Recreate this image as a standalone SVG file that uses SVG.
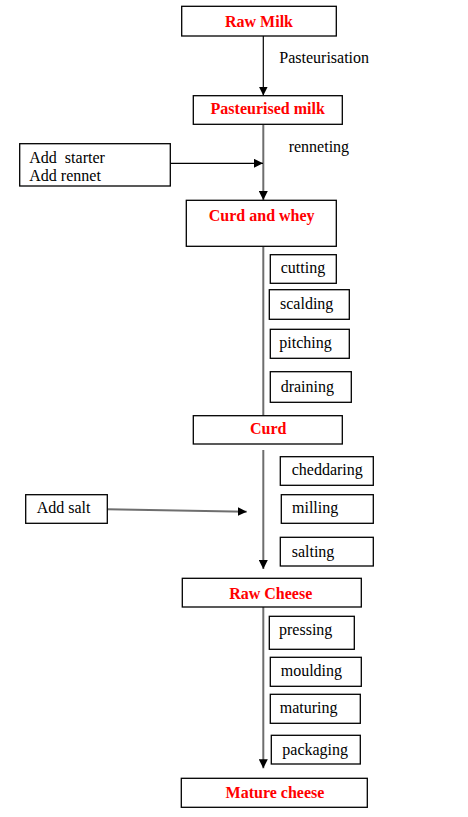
<svg xmlns="http://www.w3.org/2000/svg" width="468" height="817" viewBox="0 0 468 817">
<style>
.box{fill:#fff;stroke:#000;stroke-width:1.3}
.t{font-family:"Liberation Serif","Times New Roman",serif;font-size:16px;fill:#000}
.h{font-family:"Liberation Serif","Times New Roman",serif;font-size:16px;font-weight:bold;fill:#ff0000;text-anchor:middle}
.c1{stroke:#000;stroke-width:1.2;fill:none}
.c2{stroke:#6e6e6e;stroke-width:2;fill:none}
</style>
<defs>
<marker id="ah" viewBox="0 0 10 10" refX="10" refY="5" markerWidth="9" markerHeight="9" markerUnits="userSpaceOnUse" orient="auto">
<path d="M0,0 L10,5 L0,10 Z" fill="#000"/>
</marker>
</defs>
<rect width="468" height="817" fill="#fff"/>
<g id="connectors">
<line class="c1" x1="263.3" y1="36" x2="263.3" y2="95.5" marker-end="url(#ah)"/>
<line class="c2" x1="263.3" y1="124.5" x2="263.3" y2="200" marker-end="url(#ah)"/>
<line class="c1" x1="170.3" y1="163.3" x2="263" y2="163.3" marker-end="url(#ah)"/>
<line class="c2" x1="263.3" y1="246.5" x2="263.3" y2="415.7"/>
<line class="c2" x1="263.3" y1="450" x2="263.3" y2="569" marker-end="url(#ah)"/>
<line class="c2" x1="107.3" y1="509.3" x2="246.7" y2="511.7" marker-end="url(#ah)"/>
<line class="c2" x1="263.3" y1="607" x2="263.3" y2="768.3" marker-end="url(#ah)"/>
</g>
<g id="raw-milk"><rect class="box" x="181.7" y="6.3" width="154.6" height="29.7"/><text class="h" x="259" y="26.7">Raw Milk</text></g>
<text id="pasteurisation" class="t" x="279.3" y="62.7">Pasteurisation</text>
<g id="pasteurised-milk"><rect class="box" x="193.3" y="95.7" width="149" height="28.6"/><text class="h" x="267.7" y="114.3">Pasteurised milk</text></g>
<text id="renneting" class="t" x="288.7" y="151.7">renneting</text>
<g id="add-starter"><rect class="box" x="19.7" y="143.7" width="150.6" height="42.3"/><text class="t" x="29.3" y="162.7" xml:space="preserve">Add  starter</text><text class="t" x="29.3" y="180.5">Add rennet</text></g>
<g id="curd-and-whey"><rect class="box" x="186.3" y="200.3" width="150" height="46"/><text class="h" x="261.7" y="220.7">Curd and whey</text></g>
<g id="cutting"><rect class="box" x="270.3" y="254.7" width="66" height="28.6"/><text class="t" x="280.7" y="273.3">cutting</text></g>
<g id="scalding"><rect class="box" x="269.3" y="289.7" width="80" height="29.6"/><text class="t" x="280" y="309.3">scalding</text></g>
<g id="pitching"><rect class="box" x="270.3" y="329.3" width="79" height="29"/><text class="t" x="279.3" y="348.3">pitching</text></g>
<g id="draining"><rect class="box" x="270.3" y="371.7" width="81" height="30.6"/><text class="t" x="280.7" y="391.7">draining</text></g>
<g id="curd"><rect class="box" x="193.3" y="415.7" width="149" height="28.3"/><text class="h" x="268.3" y="434.3">Curd</text></g>
<g id="cheddaring"><rect class="box" x="280.3" y="456.7" width="93" height="28.6"/><text class="t" x="291.7" y="475">cheddaring</text></g>
<g id="milling"><rect class="box" x="281.3" y="494.7" width="92" height="28.6"/><text class="t" x="292" y="513.3">milling</text></g>
<g id="salting"><rect class="box" x="280.3" y="537.3" width="93" height="28.7"/><text class="t" x="291.7" y="556.7">salting</text></g>
<g id="add-salt"><rect class="box" x="25.7" y="494.7" width="81.6" height="28.6"/><text class="t" x="36.7" y="513.3">Add salt</text></g>
<g id="raw-cheese"><rect class="box" x="182.3" y="578.3" width="179" height="28.7"/><text class="h" x="270.7" y="598.7">Raw Cheese</text></g>
<g id="pressing"><rect class="box" x="269.3" y="616.3" width="85" height="33"/><text class="t" x="279" y="635">pressing</text></g>
<g id="moulding"><rect class="box" x="270.3" y="657.3" width="91" height="29"/><text class="t" x="280.7" y="676">moulding</text></g>
<g id="maturing"><rect class="box" x="270.3" y="694.3" width="90" height="29"/><text class="t" x="279.7" y="713.3">maturing</text></g>
<g id="packaging"><rect class="box" x="271.3" y="735.3" width="89" height="28.7"/><text class="t" x="282.3" y="755">packaging</text></g>
<g id="mature-cheese"><rect class="box" x="181.3" y="778.3" width="186" height="29"/><text class="h" x="275" y="797.7">Mature cheese</text></g>
</svg>
